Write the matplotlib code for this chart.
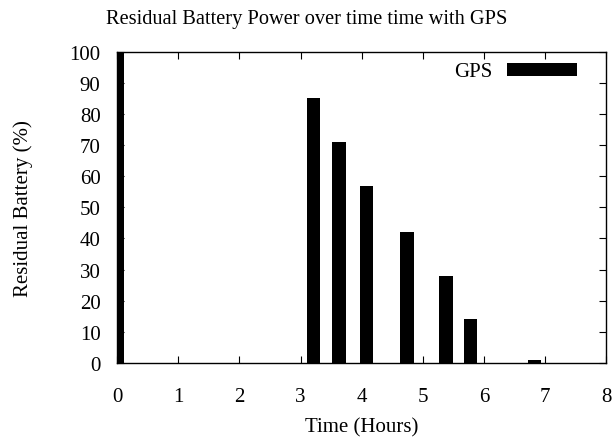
import matplotlib
matplotlib.use("Agg")
import matplotlib.pyplot as plt

plt.rcParams['font.family'] = ['Liberation Serif', 'DejaVu Serif']

hours = [0.0, 3.21, 3.63, 4.08, 4.74, 5.38, 5.78, 6.83]
battery = [100, 85, 71, 57, 42, 28, 14, 1]
xticks = [0, 1, 2, 3, 4, 5, 6, 7, 8]
yticks = [0, 10, 20, 30, 40, 50, 60, 70, 80, 90, 100]

fig = plt.figure(figsize=(6.15, 4.39), dpi=100)
ax = fig.add_axes([0.1907, 0.1708, 0.7947, 0.7092])

ax.bar(hours, battery, width=0.22, color='black', label='GPS')
ax.set_xlim(0, 8)
ax.set_ylim(0, 100)
ax.set_xticks(xticks)
ax.set_yticks(yticks)
ax.tick_params(direction='in', top=True, right=True, length=5, width=0.8,
               labelsize=15)
ax.tick_params(axis='x', pad=17)
ax.tick_params(axis='y', pad=12)
for s in ax.spines.values():
    s.set_linewidth(1.0)

ax.set_xlabel('Time (Hours)', fontsize=15, labelpad=8)
ax.set_ylabel('Residual Battery (%)', fontsize=15, labelpad=26)
fig.suptitle('Residual Battery Power over time time with GPS', fontsize=14.7,
             x=0.498, y=0.978)

leg = ax.legend(loc='center right', bbox_to_anchor=(0.9407, 0.935),
                frameon=False, markerfirst=False,
                fontsize=15, handlelength=3.36, handleheight=0.58,
                borderpad=0, borderaxespad=0, handletextpad=0.72)

fig.savefig('out.png', dpi=100)
